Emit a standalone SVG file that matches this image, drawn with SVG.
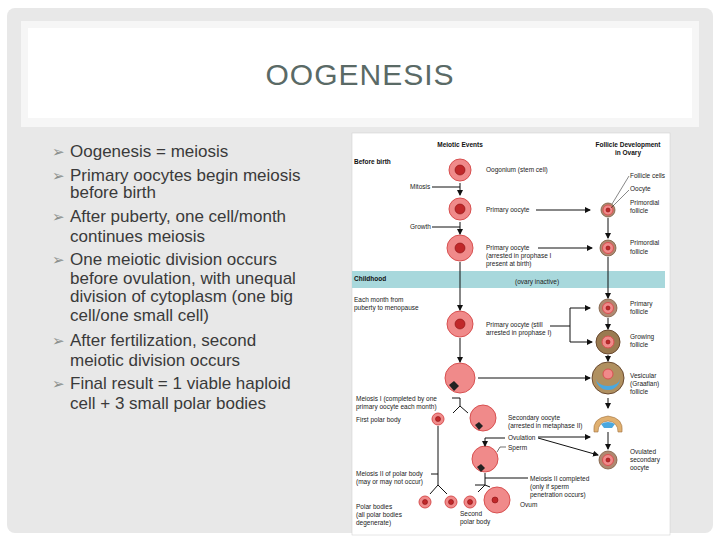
<svg xmlns="http://www.w3.org/2000/svg" width="720" height="540" viewBox="0 0 720 540">
<defs>
<marker id="ah" markerWidth="6" markerHeight="6" refX="5" refY="3" orient="auto" markerUnits="userSpaceOnUse"><path d="M0,0 L6,3 L0,6 Z" fill="#111"/></marker>
</defs>
<style>
.b{font-family:"Liberation Sans",Arial,sans-serif;font-size:17px;fill:#3a3a3a}
.m{fill:#8a8f8c;font-family:"DejaVu Sans",sans-serif;font-size:15px}
.s{font-family:"Liberation Sans",Arial,sans-serif;font-size:6.5px;fill:#222}
.h{font-family:"Liberation Sans",Arial,sans-serif;font-size:6.5px;font-weight:bold;fill:#111}
.c{fill:#f08a8a;stroke:#d85050;stroke-width:1}
.n{fill:#c0282a;stroke:#8a1010;stroke-width:0.6}
.l{stroke:#111;stroke-width:1;fill:none}
.f{fill:#b08870;stroke:#7a5a40;stroke-width:0.8}
</style>
<rect width="720" height="540" fill="#fff"/>
<rect x="7" y="8" width="706" height="525" rx="8" fill="#e8e8e8"/>
<rect x="21" y="21" width="678" height="106" fill="#f6f6f6"/>
<rect x="28" y="28" width="664" height="90" fill="#fff"/>
<text x="360" y="85" text-anchor="middle" font-family="Liberation Sans,sans-serif" font-size="30" fill="#5a6a66" letter-spacing="1">OOGENESIS</text>
<g id="bullets">
<text x="52" y="157" class="m">➢</text><text x="70" y="157" class="b">Oogenesis = meiosis</text>
<text x="52" y="181" class="m">➢</text><text x="70" y="181" class="b">Primary oocytes begin meiosis</text>
<text x="70" y="198" class="b">before birth</text>
<text x="52" y="222" class="m">➢</text><text x="70" y="222" class="b">After puberty, one cell/month</text>
<text x="70" y="242" class="b">continues meiosis</text>
<text x="52" y="265" class="m">➢</text><text x="70" y="265" class="b">One meiotic division occurs</text>
<text x="70" y="284" class="b">before ovulation, with unequal</text>
<text x="70" y="302" class="b">division of cytoplasm (one big</text>
<text x="70" y="321" class="b">cell/one small cell)</text>
<text x="52" y="346" class="m">➢</text><text x="70" y="346" class="b">After fertilization, second</text>
<text x="70" y="366" class="b">meiotic division occurs</text>
<text x="52" y="389" class="m">➢</text><text x="70" y="389" class="b">Final result = 1 viable haploid</text>
<text x="70" y="409" class="b">cell + 3 small polar bodies</text>
</g>
<rect x="352" y="133" width="318" height="402" fill="#fff" stroke="#ccc" stroke-width="0.5"/>
<rect x="352" y="271" width="313" height="17" fill="#a8d8dc"/>
<g id="labels">
<text x="460" y="147" class="h" text-anchor="middle">Meiotic Events</text>
<text x="628" y="147" class="h" text-anchor="middle">Follicle Development</text>
<text x="628" y="155" class="h" text-anchor="middle">in Ovary</text>
<text x="354" y="164" class="h">Before birth</text>
<text x="354" y="281" class="h">Childhood</text>
<text x="515" y="284" class="s">(ovary inactive)</text>
<text x="410" y="189" class="s">Mitosis</text>
<text x="410" y="229" class="s">Growth</text>
<text x="486" y="172" class="s">Oogonium (stem cell)</text>
<text x="486" y="212" class="s">Primary oocyte</text>
<text x="486" y="250" class="s">Primary oocyte</text>
<text x="486" y="258" class="s">(arrested in prophase I</text>
<text x="486" y="266" class="s">present at birth)</text>
<text x="354" y="302" class="s">Each month from</text>
<text x="354" y="310" class="s">puberty to menopause</text>
<text x="486" y="327" class="s">Primary oocyte (still</text>
<text x="486" y="335" class="s">arrested in prophase I)</text>
<text x="630" y="178" class="s">Follicle cells</text>
<text x="630" y="191" class="s">Oocyte</text>
<text x="630" y="205" class="s">Primordial</text>
<text x="630" y="213" class="s">follicle</text>
<text x="630" y="245" class="s">Primordial</text>
<text x="630" y="254" class="s">follicle</text>
<text x="630" y="306" class="s">Primary</text>
<text x="630" y="314" class="s">follicle</text>
<text x="630" y="339" class="s">Growing</text>
<text x="630" y="347" class="s">follicle</text>
<text x="630" y="378" class="s">Vesicular</text>
<text x="630" y="386" class="s">(Graafian)</text>
<text x="630" y="394" class="s">follicle</text>
<text x="630" y="454" class="s">Ovulated</text>
<text x="630" y="462" class="s">secondary</text>
<text x="630" y="470" class="s">oocyte</text>
<text x="356" y="401" class="s">Meiosis I (completed by one</text>
<text x="356" y="409" class="s">primary oocyte each month)</text>
<text x="356" y="422" class="s">First polar body</text>
<text x="508" y="420" class="s">Secondary oocyte</text>
<text x="508" y="428" class="s">(arrested in metaphase II)</text>
<text x="508" y="440" class="s">Ovulation</text>
<text x="508" y="450" class="s">Sperm</text>
<text x="356" y="476" class="s">Meiosis II of polar body</text>
<text x="356" y="484" class="s">(may or may not occur)</text>
<text x="530" y="481" class="s">Meiosis II completed</text>
<text x="530" y="489" class="s">(only if sperm</text>
<text x="530" y="497" class="s">penetration occurs)</text>
<text x="520" y="507" class="s">Ovum</text>
<text x="356" y="509" class="s">Polar bodies</text>
<text x="356" y="517" class="s">(all polar bodies</text>
<text x="356" y="525" class="s">degenerate)</text>
<text x="460" y="516" class="s">Second</text>
<text x="460" y="524" class="s">polar body</text>
</g>
<g id="cells">
<circle cx="460" cy="170" r="11" class="c"/><circle cx="460" cy="170" r="5" class="n"/>
<circle cx="460" cy="209" r="11" class="c"/><circle cx="460" cy="209" r="5" class="n"/>
<circle cx="460" cy="248" r="13" class="c"/><circle cx="460" cy="248" r="5" class="n"/>
<circle cx="460" cy="324" r="13" class="c"/><circle cx="460" cy="324" r="5" class="n"/>
<circle cx="460" cy="378" r="15" class="c"/><path d="M449,385 l5,-4 l5,5 l-5,5 z" fill="#222"/>
<circle cx="438" cy="419" r="6" class="c"/><circle cx="438" cy="419" r="2.5" class="n"/>
<circle cx="483" cy="418" r="13" class="c"/><path d="M475,425 l4,-3 l4,4 l-4,4 z" fill="#222"/>
<circle cx="485" cy="459" r="13" class="c"/><path d="M477,467 l4,-3 l4,4 l-4,4 z" fill="#222"/>
<circle cx="425" cy="502" r="6" class="c"/><circle cx="425" cy="502" r="2.5" class="n"/>
<circle cx="451" cy="502" r="6" class="c"/><circle cx="451" cy="502" r="2.5" class="n"/>
<circle cx="470" cy="502" r="6" class="c"/><circle cx="470" cy="502" r="2.5" class="n"/>
<circle cx="497" cy="500" r="13" class="c"/><circle cx="495" cy="500" r="3" class="n"/>
</g>
<g id="follicles">
<circle cx="608" cy="210" r="7" class="f"/><circle cx="608" cy="210" r="5" class="c"/><circle cx="608" cy="210" r="2" class="n"/>
<circle cx="608" cy="248" r="8" class="f"/><circle cx="608" cy="248" r="5.5" class="c"/><circle cx="608" cy="248" r="2" class="n"/>
<circle cx="608" cy="308" r="9" class="f"/><circle cx="608" cy="308" r="5.5" class="c"/><circle cx="608" cy="308" r="2" class="n"/>
<circle cx="608" cy="342" r="12" fill="#9a7a50" stroke="#6a4a30"/><circle cx="608" cy="342" r="6" class="c"/><circle cx="608" cy="342" r="2" class="n"/>
<circle cx="608" cy="378" r="16" fill="#b09060" stroke="#6a4a30"/><path d="M596,378 a12,12 0 0 0 24,0 a12,8 0 0 1 -24,0z" fill="#4aa8e0"/><circle cx="608" cy="374" r="5" class="c"/>
<path d="M594,432 q-2,-14 14,-16 q16,2 14,16 l-4,0 q0,-10 -10,-11 q-10,1 -10,11z" fill="#e0b070" stroke="#a07040" stroke-width="0.6"/>
<path d="M601,424 q7,-4 14,0 l-3,4 l-8,0z" fill="#4aa8e0"/>
<circle cx="608" cy="460" r="9" class="f"/><circle cx="608" cy="460" r="5.5" class="c"/><circle cx="608" cy="460" r="2" class="n"/>
</g>
<g id="connectors">
<path class="l" d="M460,183 V195" marker-end="url(#ah)"/><path class="l" d="M432,187 H460"/>
<path class="l" d="M460,222 V234" marker-end="url(#ah)"/><path class="l" d="M432,227 H460"/>
<path class="l" d="M460,262 V310" marker-end="url(#ah)"/>
<path class="l" d="M460,338 V362" marker-end="url(#ah)"/>
<path class="l" d="M536,210 H590" marker-end="url(#ah)"/>
<path class="l" d="M538,248 H592" marker-end="url(#ah)"/>
<path class="l" d="M550,326 H570 V308 H590" marker-end="url(#ah)"/><path class="l" d="M570,326 V342 H592" marker-end="url(#ah)"/>
<path class="l" d="M478,378 H590" marker-end="url(#ah)"/>
<path class="l" d="M608,218 V238" marker-end="url(#ah)"/>
<path class="l" d="M608,257 V298" marker-end="url(#ah)"/>
<path class="l" d="M608,318 V329" marker-end="url(#ah)"/>
<path class="l" d="M608,355 V361" marker-end="url(#ah)"/>
<path class="l" d="M608,398 V408" marker-end="url(#ah)"/>
<path class="l" d="M608,432 V449" marker-end="url(#ah)"/>
<path class="l" d="M452,398 H460 V406 M460,406 L453,413 M460,406 L468,413"/>
<path class="l" d="M438,426 V485 M438,485 L430,494 M438,485 L447,494 M431,474 H438"/>
<path class="l" d="M485,473 V485 H475 M485,485 L478,492 M485,485 L490,487 M485,478 H528"/>
<path class="l" d="M505,438 H485 V446" marker-end="url(#ah)"/>
<path class="l" d="M538,437 H590" marker-end="url(#ah)"/><path class="l" d="M538,438 L598,455" marker-end="url(#ah)"/>
<path d="M506,447 H500 L497,452" stroke="#111" stroke-width="0.6" fill="none"/>
<path d="M629,176 L612,204 M629,190 L611,208" stroke="#111" stroke-width="0.5" fill="none"/>
</g>
</svg>
